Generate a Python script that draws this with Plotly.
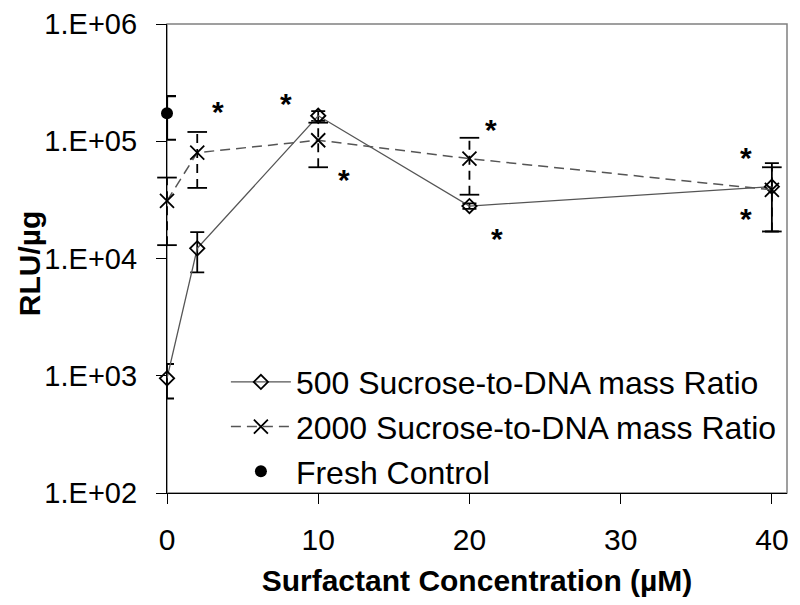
import math
import plotly.graph_objects as go

# ---------------- data ----------------
conc = [0, 2, 10, 20, 40]
rlu_500 = [950, 12200, 165000, 28000, 41000]
err_500 = [310, 4600, 16000, 1500, 24000]
rlu_2000 = [31000, 80000, 102000, 71000, 38500]
err_2000 = [18000, 40000, 42000, 36000, 21500]
control_x = [0]
control_y = [173000]
control_err = [70000]
star_x = [3.4, 7.9, 11.7, 21.4, 21.8, 38.3, 38.3]
star_y = [197000, 232000, 52000, 139000, 16400, 80000, 24000]
ytick_vals = [1e2, 1e3, 1e4, 1e5, 1e6]
ytick_text = ["1.E+02", "1.E+03", "1.E+04", "1.E+05", "1.E+06"]
xtick_vals = [0, 10, 20, 30, 40]

FONT = "Liberation Sans, Arial, sans-serif"

fig = go.Figure()

# 500 series
fig.add_trace(go.Scatter(
    x=conc, y=rlu_500, mode="lines+markers", name="500 Sucrose-to-DNA mass Ratio",
    line=dict(color="#555555", width=1.3), cliponaxis=False,
    marker=dict(symbol="diamond-open", size=11, color="black", line=dict(width=1.8)),
    error_y=dict(type="data", array=err_500, color="black", thickness=1.8, width=7),
))

# 2000 series dashed error bars
ex, ey, cx, cy = [], [], [], []
for x, y, e in zip(conc, rlu_2000, err_2000):
    ex += [x, x, None]
    ey += [y - e, y + e, None]
    cx += [x, x]
    cy += [y - e, y + e]
fig.add_trace(go.Scatter(x=ex, y=ey, mode="lines", showlegend=False, hoverinfo="skip",
                         cliponaxis=False,
                         line=dict(color="black", width=1.8, dash="9px,6px")))
fig.add_trace(go.Scatter(x=cx, y=cy, mode="markers", showlegend=False, hoverinfo="skip",
                         cliponaxis=False,
                         marker=dict(symbol="line-ew", size=14, line=dict(color="black", width=1.8))))

fig.add_trace(go.Scatter(
    x=conc, y=rlu_2000, mode="lines+markers", name="2000 Sucrose-to-DNA mass Ratio",
    line=dict(color="#555555", width=1.5, dash="10px,6px"), cliponaxis=False,
    marker=dict(symbol="x-thin", size=14, color="black", line=dict(width=1.8, color="black")),
))

# Fresh control
fig.add_trace(go.Scatter(
    x=control_x, y=control_y, mode="markers", name="Fresh Control", cliponaxis=False,
    marker=dict(symbol="circle", size=12, color="black"),
    error_y=dict(type="data", array=control_err, color="black", thickness=2.2, width=9),
))

# asterisks (annotation y on a log axis is given in log10 units)
for sx, sy in zip(star_x, star_y):
    fig.add_annotation(x=sx, y=math.log10(sy), xref="x", yref="y", text="<b>*</b>",
                       showarrow=False, font=dict(family=FONT, size=30, color="black"),
                       yshift=-5)

# y axis title
fig.add_annotation(x=0, y=0.49, xref="paper", yref="paper", xshift=-138,
                   text="<b>RLU/µg</b>", textangle=-90, showarrow=False,
                   xanchor="center", yanchor="middle",
                   font=dict(family=FONT, size=30, color="black"))

# frame
fig.add_shape(type="rect", xref="paper", yref="paper", x0=0, y0=0, x1=1, y1=1,
              line=dict(color="#808080", width=1.5), layer="below")

# the page body adds an 8px offset (top/left), so the figure is 8px smaller
fig.update_layout(
    width=792, height=597,
    margin=dict(l=159, r=13, t=16, b=112, autoexpand=False),
    paper_bgcolor="white", plot_bgcolor="white",
    font=dict(family=FONT, size=30, color="black"),
    showlegend=True,
    legend=dict(x=0.095, y=0.295, xanchor="left", yanchor="top",
                bgcolor="rgba(0,0,0,0)", borderwidth=0,
                font=dict(family=FONT, size=32, color="black"),
                itemwidth=60, tracegroupgap=0),
    xaxis=dict(range=[0, 41], tickvals=xtick_vals, ticks="outside", ticklen=10,
               tickwidth=1, tickcolor="black", showline=True, linecolor="black",
               linewidth=1.2, showgrid=False, zeroline=False, automargin=False,
               tickfont=dict(size=30), ticklabelstandoff=10,
               title=dict(text="<b>Surfactant Concentration (µM)</b>",
                          font=dict(size=30), standoff=14)),
    yaxis=dict(type="log", range=[2, 6], tickvals=ytick_vals, ticktext=ytick_text,
               ticks="outside", ticklen=10, tickwidth=1, tickcolor="black",
               showline=True, linecolor="black", linewidth=1.2, showgrid=False,
               zeroline=False, tickfont=dict(size=29), ticklabelstandoff=13,
               automargin=False),
)

fig.write_html("out.html")
